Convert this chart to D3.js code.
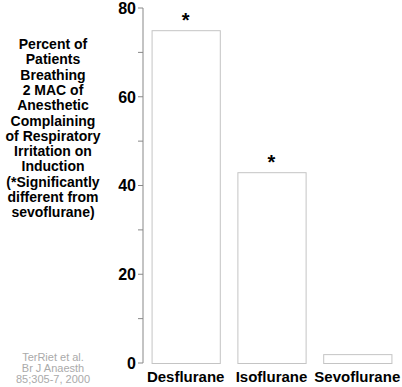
<!DOCTYPE html>
<html>
<head>
<meta charset="utf-8">
<script src="https://cdn.jsdelivr.net/npm/d3@7"></script>
<style>
  body { margin: 0; background: #fff; }
  text { font-family: "Liberation Sans", Arial, sans-serif; }
</style>
</head>
<body>
<div id="chart"></div>
<script>
// Данные
let agents = ['Desflurane', 'Isoflurane', 'Sevoflurane'];
let percents = [75, 43, 2];
let significant = [true, true, false];
let yTicks = [0, 20, 40, 60, 80];
let yMinorTicks = [10, 30, 50, 70];
let titleLines = ['Percent of', 'Patients', 'Breathing', '2 MAC of', 'Anesthetic',
    'Complaining', 'of Respiratory', 'Irritation on', 'Induction',
    '(*Significantly', 'different from', 'sevoflurane)'];
let sourceLines = ['TerRiet et al.', 'Br J Anaesth', '85;305-7, 2000'];

let width = 402, height = 387;
let svg = d3.select('#chart').append('svg').attr('width', width).attr('height', height);

let x = d3.scaleBand().domain(agents).range([143, 400]).paddingInner(0.205).paddingOuter(0.1);
let y = d3.scaleLinear().domain([0, 80]).range([363, 8]);

// Ось Y
let axis = svg.append('g').attr('transform', 'translate(143,0)');
axis.append('line').attr('y1', y(0)).attr('y2', y(80)).attr('stroke', '#888').attr('stroke-width', 1);
axis.selectAll('.major').data(yTicks).enter().append('line')
    .attr('x1', -5).attr('x2', 0).attr('y1', d => y(d)).attr('y2', d => y(d))
    .attr('stroke', '#888');
axis.selectAll('.minor').data(yMinorTicks).enter().append('line')
    .attr('x1', -5).attr('x2', 0).attr('y1', d => y(d)).attr('y2', d => y(d))
    .attr('stroke', '#888');
axis.selectAll('.lbl').data(yTicks).enter().append('text')
    .attr('x', -7).attr('y', d => y(d)).attr('dy', '0.36em')
    .attr('text-anchor', 'end').style('font-size', '16px').style('font-weight', 'bold')
    .text(d => d);

// Столбцы
svg.selectAll('.bar').data(agents).enter().append('rect')
    .attr('x', d => x(d) + 0.5).attr('width', x.bandwidth())
    .attr('y', (d, i) => y(percents[i]) + 0.5).attr('height', (d, i) => y(0) - y(percents[i]))
    .attr('fill', '#fff').attr('stroke', '#c4c4c4').attr('stroke-width', 1);

// Звездочки
svg.selectAll('.star').data(agents.filter((d, i) => significant[i])).enter().append('text')
    .attr('x', d => x(d) + x.bandwidth() / 2)
    .attr('y', d => y(percents[agents.indexOf(d)]) - 3)
    .attr('text-anchor', 'middle').style('font-size', '20px').style('font-weight', 'bold')
    .text('*');

// Подписи категорий
svg.selectAll('.cat').data(agents).enter().append('text')
    .attr('x', d => x(d) + x.bandwidth() / 2).attr('y', 382)
    .attr('text-anchor', 'middle').style('font-size', '15px').style('font-weight', 'bold')
    .text(d => d);

// Заголовок оси
svg.append('text').attr('x', 53).attr('y', 49)
    .attr('text-anchor', 'middle').style('font-size', '14px').style('font-weight', 'bold')
    .selectAll('tspan').data(titleLines).enter().append('tspan')
    .attr('x', 53).attr('dy', (d, i) => i === 0 ? 0 : 15.3)
    .text(d => d);

// Источник
svg.append('text').attr('x', 53).attr('y', 361)
    .attr('text-anchor', 'middle').style('font-size', '11px').attr('fill', '#aaa')
    .selectAll('tspan').data(sourceLines).enter().append('tspan')
    .attr('x', 53).attr('dy', (d, i) => i === 0 ? 0 : 11)
    .text(d => d);
</script>
</body>
</html>
